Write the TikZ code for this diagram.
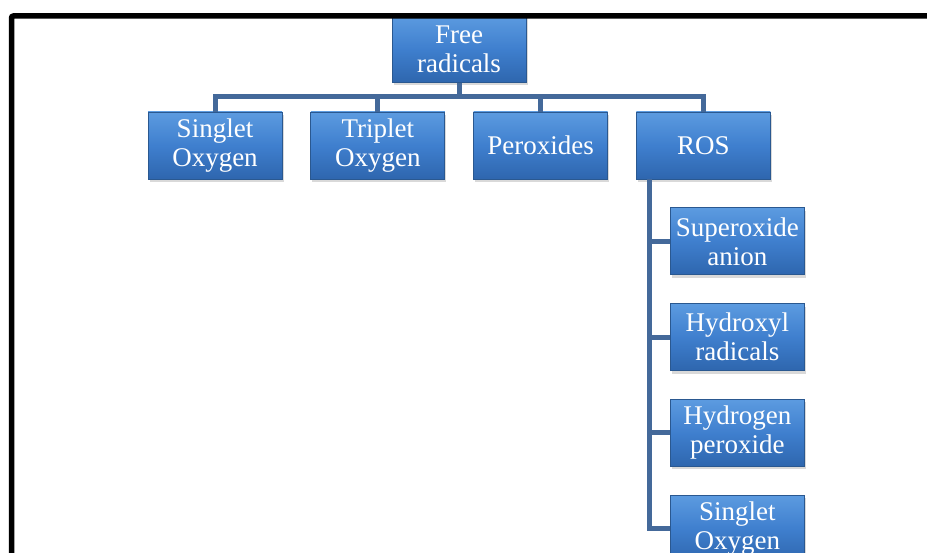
\documentclass[tikz,border=0pt]{standalone}
\usepackage{fontspec}
\setmainfont{Liberation Serif}
\usetikzlibrary{positioning,shadows}

\definecolor{boxtop}{HTML}{5C9BE0}
\definecolor{boxmid}{HTML}{3F7FCE}
\definecolor{boxbot}{HTML}{2E66AE}
\definecolor{boxline}{HTML}{2A5890}
\definecolor{linkblue}{HTML}{44699A}

\begin{document}
\begin{tikzpicture}[x=1pt,y=-1pt,node distance=28pt and 28pt,
  box/.style={rectangle,minimum width=134pt,minimum height=67pt,inner sep=1pt,
    top color=boxtop,bottom color=boxbot,middle color=boxmid,draw=boxline,line width=0.8pt,
    drop shadow={shadow xshift=1.5pt,shadow yshift=-3pt,opacity=0.3},
    text=white,align=center,font=\fontsize{27}{29}\selectfont},
  link/.style={draw=linkblue,line width=5pt},
  frame/.style={draw=black,line width=5.5pt,rounded corners=2pt}]
  \useasboundingbox (0,0) rectangle (927,553);
  \begin{scope}
  \clip (0,0) rectangle (927,553);
  % top level
  \node[box] (free) at (459,49) {Free\\radicals};
  \node[box] (singlet) at (215,145.5) {Singlet\\Oxygen};
  \node[box,right=of singlet] (triplet) {Triplet\\Oxygen};
  \node[box,right=of triplet] (peroxides) {Peroxides};
  \node[box,right=of peroxides] (ros) {ROS};
  % ROS children
  \node[box,below=28pt of ros,xshift=34pt] (superoxide) {Superoxide\\anion};
  \node[box,below=of superoxide] (hydroxyl) {Hydroxyl\\radicals};
  \node[box,below=of hydroxyl] (hperoxide) {Hydrogen\\peroxide};
  \node[box,below=of hperoxide] (singletros) {Singlet\\Oxygen};
  % connectors
  \coordinate (bar) at (459,97);
  \draw[link] (free.south) -- (bar);
  \foreach \n in {singlet,triplet,peroxides,ros}
    \draw[link] (bar) -| (\n.north);
  \coordinate (trunk) at ([xshift=13pt]ros.south west);
  \foreach \n in {superoxide,hydroxyl,hperoxide,singletros}
    \draw[link] (trunk) |- (\n.west);
  % frame
  \draw[frame] (11.5,570) -- (11.5,16) -- (945,16);
  \end{scope}
\end{tikzpicture}
\end{document}
